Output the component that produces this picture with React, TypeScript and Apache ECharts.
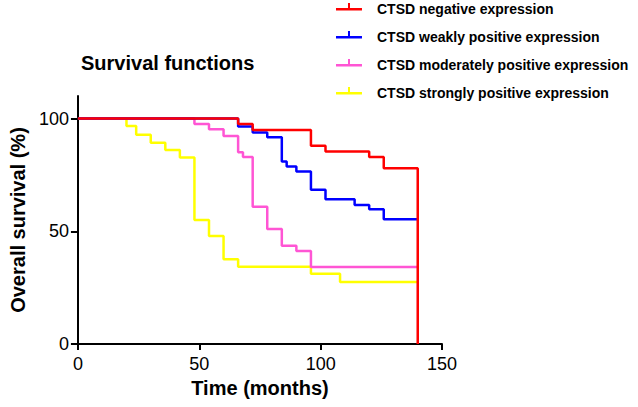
import { useEffect, useRef } from "react";
import * as echarts from "echarts";

const FONT = "'Liberation Sans', Arial, sans-serif";

const seriesNames = [
  "CTSD negative expression",
  "CTSD weakly positive expression",
  "CTSD moderately positive expression",
  "CTSD strongly positive expression",
];
const seriesColors = ["#ff0000", "#0000ff", "#ff55d4", "#ffff00"];

const negMonths = [0, 66, 72, 96, 102, 120, 126, 140, 140];
const negSurv = [100, 97.6, 94.9, 87.9, 85.4, 82.9, 78.0, 78.0, 0];

const weakMonths = [0, 66, 72, 78, 84, 86, 90, 96, 102, 114, 120, 126, 140];
const weakSurv = [100, 96.5, 93.8, 91.7, 80.9, 78.7, 76.5, 68.4, 64.2, 61.7, 59.8, 55.3, 55.3];

const modMonths = [0, 48, 54, 60, 66, 68, 72, 78, 84, 90, 96, 140];
const modSurv = [100, 97.6, 95.3, 92.3, 85.1, 82.9, 60.9, 51.0, 43.6, 41.3, 34.2, 34.2];

const strMonths = [0, 20, 24, 30, 36, 42, 48, 54, 60, 66, 96, 108, 140];
const strSurv = [100, 96.7, 92.8, 89.3, 86.1, 82.7, 55.0, 47.9, 37.6, 34.3, 31.2, 27.5, 27.5];

const xTicks = [0, 50, 100, 150];
const yTicks = [0, 50, 100];

const zip = (a: number[], b: number[]) => a.map((v, i) => [v, b[i]]);

const LEGEND_ICON =
  "path://M0,5h26v2.5h-26z M12,0h2v5h-2z M0,12.5h0.01v0.01h-0.01z";

export default function App() {
  const ref = useRef<HTMLDivElement>(null);
  useEffect(() => {
    const chart = echarts.init(ref.current!, null, { renderer: "svg" });
    const data = [
      zip(negMonths, negSurv),
      zip(weakMonths, weakSurv),
      zip(modMonths, modSurv),
      zip(strMonths, strSurv),
    ];
    const series = [3, 2, 1, 0].map((i) => ({
      name: seriesNames[i],
      type: "line",
      step: "end",
      data: data[i],
      symbol: "none",
      lineStyle: { color: seriesColors[i], width: 2.5 },
      itemStyle: { color: seriesColors[i] },
      z: 10 - i,
    }));
    chart.setOption({
      animation: false,
      backgroundColor: "#ffffff",
      textStyle: { fontFamily: FONT },
      title: {
        text: "Survival functions",
        left: 81,
        top: 53,
        padding: 0,
        textStyle: { fontSize: 20, fontWeight: "bold", color: "#000", fontFamily: FONT },
      },
      legend: {
        orient: "vertical",
        left: 336,
        top: 1.3,
        padding: 0,
        itemWidth: 26,
        itemHeight: 12.5,
        itemGap: 12,
        selectedMode: false,
        data: seriesNames.map((n, i) => ({
          name: n,
          icon: LEGEND_ICON,
          itemStyle: { color: seriesColors[i] },
        })),
        textStyle: {
          fontSize: 14,
          fontWeight: "bold",
          color: "#000",
          fontFamily: FONT,
          lineHeight: 16,
          padding: [0, 0, 0, 10],
        },
      },
      grid: { left: 71, top: 96, width: 371, height: 248 },
      xAxis: {
        type: "value",
        min: xTicks[0],
        max: xTicks[xTicks.length - 1],
        interval: 50,
        name: "Time (months)",
        nameLocation: "middle",
        nameGap: 34,
        nameTextStyle: { fontSize: 20, fontWeight: "bold", color: "#000", fontFamily: FONT },
        axisLine: { lineStyle: { color: "#000", width: 2 } },
        axisTick: { length: 6, lineStyle: { color: "#000", width: 2 } },
        axisLabel: { fontSize: 18, color: "#000", margin: 11, fontFamily: FONT },
        splitLine: { show: false },
      },
      yAxis: {
        type: "value",
        min: 0,
        max: 110,
        name: "Overall survival (%)",
        nameLocation: "middle",
        nameGap: 43,
        nameTextStyle: { fontSize: 20, fontWeight: "bold", color: "#000", fontFamily: FONT },
        axisLine: { lineStyle: { color: "#000", width: 2 } },
        axisTick: { length: 7, customValues: yTicks, lineStyle: { color: "#000", width: 2 } },
        axisLabel: { fontSize: 18, color: "#000", margin: 9, customValues: yTicks, fontFamily: FONT },
        splitLine: { show: false },
      },
      series,
    });
    return () => chart.dispose();
  }, []);
  return (
    <div
      ref={ref}
      style={{ position: "absolute", left: 0, top: 0, width: 638, height: 407 }}
    />
  );
}
